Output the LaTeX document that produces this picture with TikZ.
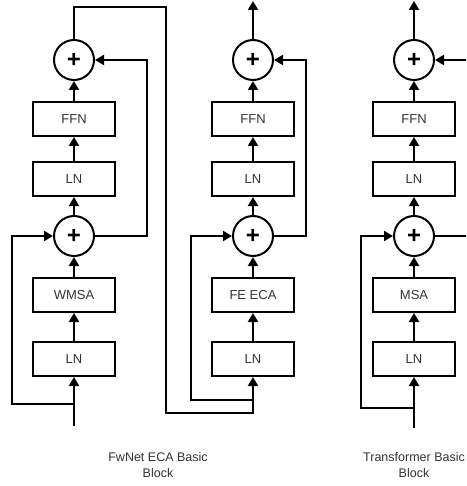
\documentclass[tikz,border=0pt]{standalone}
\usepackage{fontspec}
\setmainfont{Liberation Sans}
\usetikzlibrary{arrows.meta}
\definecolor{txt}{HTML}{333333}
\begin{document}
\begin{tikzpicture}[x=1pt,y=-1pt,
  line width=2pt,
  box/.style={draw=black,line width=2pt,minimum width=82pt,minimum height=34pt,inner sep=0pt,font=\fontsize{13}{15}\selectfont,text=txt},
  sumnode/.style={draw=black,circle,line width=2pt,minimum size=40pt,inner sep=0pt,font=\fontsize{24}{24}\selectfont\bfseries},
  arr/.style={-{Triangle[length=9pt,width=10pt]}},
  lab/.style={align=center,font=\fontsize{12.5}{16}\selectfont,text=txt}]
\useasboundingbox (0,0) rectangle (466,486);
\clip (0,0) rectangle (466,486);
% ---- block 1 ----
\node[sumnode] (c1t) at (74,60) {+};
\node[box] (ffn1) at (74,119) {FFN};
\node[box] (ln1b) at (74,179) {LN};
\node[sumnode] (c1b) at (74,236) {+};
\node[box] (wmsa) at (74,295) {WMSA};
\node[box] (ln1a) at (74,359) {LN};
\coordinate (in1) at (74,426);
\coordinate (s1) at (74,404);
\coordinate (l1) at (12,404);
\coordinate (r1) at (147,60);
\coordinate (t1) at (166,7);
\coordinate (b1) at (166,413);
\draw[arr] (in1) -- (ln1a.south);
\draw[arr] (s1) -- (l1) |- (c1b.west);
\draw[arr] (ln1a) -- (wmsa);
\draw[arr] (wmsa) -- (c1b);
\draw[arr] (c1b) -- (ln1b);
\draw[arr] (ln1b) -- (ffn1);
\draw[arr] (ffn1) -- (c1t);
\draw[arr] (c1b.east) -| (r1) -- (c1t.east);
% ---- block 2 ----
\node[sumnode] (c2t) at (253,60) {+};
\node[box] (ffn2) at (253,119) {FFN};
\node[box] (ln2b) at (253,179) {LN};
\node[sumnode] (c2b) at (253,236) {+};
\node[box] (feeca) at (253,295) {FE ECA};
\node[box] (ln2a) at (253,359) {LN};
\coordinate (s2) at (253,400);
\coordinate (l2) at (191,400);
\coordinate (r2) at (306,60);
\coordinate (o2) at (253,1);
\draw[arr] (c1t.north) |- (t1) -- (b1) -| (ln2a.south);
\draw[arr] (s2) -- (l2) |- (c2b.west);
\draw[arr] (ln2a) -- (feeca);
\draw[arr] (feeca) -- (c2b);
\draw[arr] (c2b) -- (ln2b);
\draw[arr] (ln2b) -- (ffn2);
\draw[arr] (ffn2) -- (c2t);
\draw[arr] (c2b.east) -| (r2) -- (c2t.east);
\draw[arr] (c2t.north) -- (o2);
% ---- block 3 ----
\node[sumnode] (c3t) at (414,60) {+};
\node[box] (ffn3) at (414,119) {FFN};
\node[box] (ln3b) at (414,179) {LN};
\node[sumnode] (c3b) at (414,236) {+};
\node[box] (msa) at (414,295) {MSA};
\node[box] (ln3a) at (414,359) {LN};
\coordinate (in3) at (414,428);
\coordinate (s3) at (414,408);
\coordinate (l3) at (361,408);
\coordinate (r3) at (470,60);
\coordinate (e3) at (470,236);
\coordinate (o3) at (414,1);
\draw[arr] (in3) -- (ln3a.south);
\draw[arr] (s3) -- (l3) |- (c3b.west);
\draw[arr] (ln3a) -- (msa);
\draw[arr] (msa) -- (c3b);
\draw[arr] (c3b) -- (ln3b);
\draw[arr] (ln3b) -- (ffn3);
\draw[arr] (ffn3) -- (c3t);
\draw (c3b.east) -- (e3);
\draw[arr] (r3) -- (c3t.east);
\draw[arr] (c3t.north) -- (o3);
% ---- labels ----
\node[lab] (lab1) at (158,465) {FwNet ECA Basic\\Block};
\node[lab] (lab3) at (414,465) {Transformer Basic\\Block};
\end{tikzpicture}
\end{document}
